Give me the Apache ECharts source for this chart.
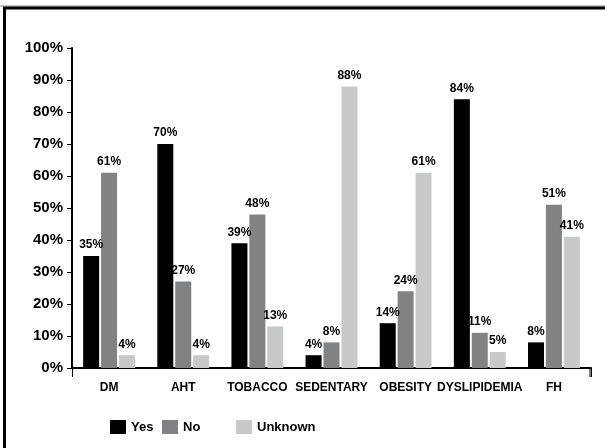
<!DOCTYPE html>
<html>
<head>
<meta charset="utf-8">
<script src="https://cdn.jsdelivr.net/npm/echarts@6/dist/echarts.min.js"></script>
<style>
  html, body { margin: 0; padding: 0; background: #fff; }
  #chart { width: 605px; height: 448px; }
</style>
</head>
<body>
<div id="chart"></div>
<script>
const categories = ['DM', 'AHT', 'TOBACCO', 'SEDENTARY', 'OBESITY', 'DYSLIPIDEMIA', 'FH']
const yesValues = [35, 70, 39, 4, 14, 84, 8]
const noValues = [61, 27, 48, 8, 24, 11, 51]
const unknownValues = [4, 4, 13, 88, 61, 5, 41]
const yTicks = [0, 10, 20, 30, 40, 50, 60, 70, 80, 90, 100]

const sans = "'Liberation Sans', Arial, sans-serif"
const gridLeft = 72
const gridRight = 14
const gridTop = 48
const gridBottom = 80

const chart = echarts.init(document.getElementById('chart'))

function barSeries (name, data, color) {
  return {
    name: name,
    type: 'bar',
    data: data,
    barWidth: 16,
    barGap: '12%',
    itemStyle: { color: color },
    label: {
      show: true,
      position: 'top',
      distance: 5,
      formatter: '{c}%',
      color: '#000',
      fontFamily: sans,
      fontWeight: 'bold',
      fontSize: 12
    }
  }
}

function legendAt (name, left) {
  return {
    data: [name],
    left: left,
    top: 415,
    itemWidth: 16,
    itemHeight: 14,
    selectedMode: false,
    icon: 'rect',
    textStyle: { fontFamily: sans, fontWeight: 'bold', fontSize: 13, color: '#000' }
  }
}

const option = {
  animation: false,
  grid: { left: gridLeft, right: gridRight, top: gridTop, bottom: gridBottom },
  legend: [
    legendAt('Yes', 105),
    legendAt('No', 157),
    legendAt('Unknown', 231)
  ],
  xAxis: {
    type: 'category',
    data: categories,
    axisLine: { lineStyle: { color: '#000', width: 2 } },
    axisTick: { show: true, length: 9, interval: (i) => i === 0, lineStyle: { color: '#000', width: 1 } },
    axisLabel: { color: '#000', fontFamily: sans, fontWeight: 'bold', fontSize: 12, margin: 14, interval: 0 }
  },
  yAxis: {
    type: 'value',
    min: 0,
    max: 100,
    interval: 10,
    splitLine: { show: false },
    axisLine: { show: true, lineStyle: { color: '#000', width: 2 } },
    axisTick: { show: true, length: 5, lineStyle: { color: '#000', width: 1 } },
    axisLabel: {
      color: '#000',
      fontFamily: sans,
      fontWeight: 'bold',
      fontSize: 15,
      margin: 9,
      formatter: (v) => yTicks.includes(v) ? v + '%' : ''
    }
  },
  graphic: [
    { type: 'line', shape: { x1: 0, y1: 6, x2: 605, y2: 6 }, style: { stroke: '#888', lineWidth: 1 } },
    { type: 'line', shape: { x1: 3, y1: 8, x2: 605, y2: 8 }, style: { stroke: '#000', lineWidth: 3 } },
    { type: 'line', shape: { x1: 4.5, y1: 7, x2: 4.5, y2: 448 }, style: { stroke: '#000', lineWidth: 3 } },
    { type: 'line', shape: { x1: 605 - gridRight - 1, y1: 448 - gridBottom, x2: 605 - gridRight - 1, y2: 448 - gridBottom + 9 }, style: { stroke: '#000', lineWidth: 1 } }
  ],
  series: [
    barSeries('Yes', yesValues, '#000000'),
    barSeries('No', noValues, '#808284'),
    barSeries('Unknown', unknownValues, '#c8caca')
  ]
}

chart.setOption(option)
window.addEventListener('resize', chart.resize)
</script>
</body>
</html>
